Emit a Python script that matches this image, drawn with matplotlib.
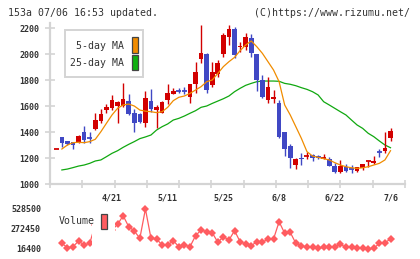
import matplotlib
matplotlib.use("Agg")
import matplotlib.pyplot as plt
from matplotlib.patches import Rectangle
import numpy as np

# ---------------- data ----------------
opens = [1270, 1360, 1330, 1322, 1323, 1400, 1358, 1423, 1485, 1569,
         1582, 1600, 1602, 1638, 1549, 1538, 1472, 1638, 1569, 1549,
         1646, 1695, 1720, 1718, 1667, 1767, 1964, 2000, 1762, 1846,
         2000, 2133, 2190, 2051, 2056, 2121, 1997, 1800, 1646, 1654,
         1626, 1400, 1292, 1146, 1203, 1216, 1223, 1205, 1201, 1192,
         1141, 1095, 1128, 1117, 1100, 1120, 1174, 1164, 1246, 1256, 1351]
highs = [1270, 1362, 1333, 1325, 1375, 1446, 1398, 1544, 1579, 1615,
         1685, 1640, 1779, 1692, 1574, 1550, 1715, 1731, 1610, 1640,
         1769, 1736, 1736, 1750, 1770, 1936, 2223, 2005, 1941, 1954,
         2160, 2223, 2210, 2095, 2159, 2154, 2000, 1838, 1826, 1723,
         1646, 1402, 1308, 1203, 1241, 1246, 1230, 1225, 1231, 1205,
         1164, 1185, 1154, 1146, 1131, 1154, 1176, 1215, 1269, 1397, 1428]
lows = [1270, 1287, 1303, 1272, 1318, 1313, 1318, 1418, 1467, 1544,
        1569, 1467, 1595, 1530, 1402, 1470, 1441, 1554, 1433, 1545,
        1613, 1690, 1700, 1690, 1620, 1702, 1928, 1702, 1749, 1826,
        1979, 2069, 1967, 2018, 2031, 1974, 1718, 1660, 1620, 1620,
        1355, 1215, 1125, 1115, 1146, 1195, 1180, 1190, 1190, 1135,
        1085, 1082, 1092, 1087, 1092, 1105, 1128, 1151, 1210, 1241, 1333]
closes = [1270, 1318, 1305, 1298, 1369, 1335, 1355, 1492, 1538, 1590,
          1646, 1628, 1651, 1541, 1472, 1479, 1659, 1579, 1592, 1631,
          1702, 1718, 1716, 1715, 1767, 1864, 2010, 1723, 1862, 1933,
          2149, 2190, 1992, 2062, 2128, 2005, 1800, 1667, 1749, 1672,
          1359, 1272, 1203, 1190, 1190, 1220, 1197, 1203, 1203, 1141,
          1090, 1141, 1100, 1113, 1131, 1154, 1176, 1179, 1242, 1279, 1408]

ma5 = [np.nan, 1269, 1300, 1318, 1321, 1318, 1326, 1344, 1402, 1467,
       1531, 1582, 1608, 1615, 1600, 1569, 1560, 1556, 1549, 1556,
       1590, 1641, 1667, 1677, 1697, 1723, 1749, 1787, 1800, 1851,
       1903, 1941, 1974, 2026, 2069, 2100, 2056, 2005, 1941, 1877,
       1787, 1608, 1531, 1441, 1351, 1249, 1215, 1205, 1195, 1185,
       1164, 1146, 1133, 1125, 1120, 1125, 1133, 1146, 1159, 1185, 1256]
ma25 = [np.nan, 1108, 1115, 1126, 1138, 1146, 1159, 1177, 1185, 1210,
        1236, 1256, 1282, 1305, 1326, 1349, 1362, 1377, 1415, 1441,
        1462, 1492, 1505, 1523, 1544, 1564, 1590, 1600, 1620, 1638,
        1656, 1677, 1710, 1736, 1759, 1774, 1787, 1792, 1792, 1792,
        1790, 1774, 1767, 1756, 1741, 1728, 1710, 1685, 1633, 1608,
        1582, 1556, 1531, 1492, 1454, 1428, 1390, 1364, 1331, 1300, 1279]

volume = [np.nan, 89400, 33000, 45800, 118800, 67600, 89400, 330000, 250000, 200000,
          260000, 332000, 443000, 302000, 247000, 153400, 528500, 153400, 144400, 67600,
          67600, 122700, 45800, 67600, 45800, 186700, 259600, 238000, 225000, 102100,
          173900, 131600, 250700, 109800, 80400, 58700, 109800, 102100, 144400, 144400,
          365900, 217400, 230200, 89400, 58700, 38200, 38200, 25400, 38200, 45800,
          45800, 76600, 38200, 45800, 25400, 25400, 16400, 25400, 89400, 97000, 144400]

date_labels = ["4/21", "5/11", "5/25", "6/8", "6/22", "7/6"]
date_idx = [10, 20, 30, 40, 50, 60]
price_ticks = [1000, 1200, 1400, 1600, 1800, 2000, 2200]
vol_ticks = [16400, 272450, 528500]

# ---------------- style ----------------
RED = "#d20000"
BLUE = "#4048c4"
ORANGE = "#f08c00"
GREEN = "#10a810"
VOLC = "#ff5c60"
GRID = "#d4d4d4"
TXT = "#333333"
MONO = "DejaVu Sans Mono"

W, H = 420, 259
fig = plt.figure(figsize=(W / 100, H / 100), dpi=100)

def fx(x):
    return x / W

def fy(y):
    return 1 - y / H

# main axes: pixel x 50..405, price 1000 at y=184, 0.13 px per yen
ymin, ymax = 1000, 2240
top_px = 184 - (ymax - ymin) * 0.13
ax = fig.add_axes([fx(50), fy(184), (405 - 50) / W, (184 - top_px) / H])
x0 = (50 - 56.3) / 5.57
x1 = (405 - 56.3) / 5.57
ax.set_xlim(x0, x1)
ax.set_ylim(ymin, ymax)

n = len(closes)
xs = np.arange(n)
for i in range(n):
    o, h, l, c = opens[i], highs[i], lows[i], closes[i]
    col = RED if c >= o else BLUE
    if h > l:
        ax.vlines(i, l, h, color=col, lw=1.0, zorder=3)
    if abs(c - o) < 6:
        ax.hlines((o + c) / 2, i - 0.45, i + 0.45, color=col, lw=1.3, zorder=3)
    else:
        ax.bar(i, abs(c - o), bottom=min(o, c), width=0.84, color=col,
               lw=0, zorder=3)

ax.plot(xs, ma5, color=ORANGE, lw=0.9, zorder=4)
ax.plot(xs, ma25, color=GREEN, lw=0.9, zorder=2)

for s in ["top", "right"]:
    ax.spines[s].set_visible(False)
for s in ["left", "bottom"]:
    ax.spines[s].set_color(GRID)
    ax.spines[s].set_linewidth(1.6)

ax.set_yticks(price_ticks)
ax.set_yticklabels([str(t) for t in price_ticks], family=MONO, fontsize=6,
                   color=TXT, fontweight="bold")
ax.tick_params(axis="y", direction="inout", length=7, width=1.2, color=GRID, pad=4)
xt = np.linspace(x0, x1, 12)
ax.set_xticks(xt)
ax.set_xticklabels([])
ax.tick_params(axis="x", direction="inout", length=6, width=1.2, color=GRID)

for lab, idx in zip(date_labels, date_idx):
    ax.annotate(lab, xy=(idx, 0), xycoords=("data", "axes fraction"),
                xytext=(0, -10), textcoords="offset points", ha="center",
                va="center", family=MONO, fontsize=6, color=TXT, fontweight="bold")

# legend (main)
fig.patches.append(Rectangle((fx(65), fy(77)), (143 - 65) / W, (77 - 30) / H,
                             transform=fig.transFigure, facecolor="white",
                             edgecolor=GRID, lw=1.4, zorder=5))
fig.text(fx(124.5), fy(46), "5-day MA", ha="right", va="center", family=MONO,
         fontsize=7.1, color=TXT, zorder=6)
fig.text(fx(124.5), fy(62.5), "25-day MA", ha="right", va="center", family=MONO,
         fontsize=7.1, color=TXT, zorder=6)
fig.patches.append(Rectangle((fx(131.5), fy(52.5)), 6 / W, 15.5 / H,
                             transform=fig.transFigure, facecolor=ORANGE,
                             edgecolor="#444444", lw=0.9, zorder=6))
fig.patches.append(Rectangle((fx(131.5), fy(69.5)), 6 / W, 15 / H,
                             transform=fig.transFigure, facecolor="#10b010",
                             edgecolor="#444444", lw=0.9, zorder=6))

# volume axes: 16400 at y=249, 528500 at y=209
vs = (528500 - 16400) / 40.0
vtop, vbot = 203, 255
vax = fig.add_axes([fx(50), fy(vbot), (405 - 50) / W, (vbot - vtop) / H])
vax.set_xlim(x0, x1)
vax.set_ylim(16400 - (vbot - 249) * vs, 528500 + (209 - vtop) * vs)
vax.plot(xs, volume, color=VOLC, lw=0.9, marker="D", markersize=4.2,
         markeredgewidth=0, zorder=3)
for s in vax.spines.values():
    s.set_visible(False)
vax.set_xticks([])
vax.set_yticks(vol_ticks)
vax.set_yticklabels([str(t) for t in vol_ticks], family=MONO, fontsize=6,
                    color=TXT, fontweight="bold")
vax.tick_params(axis="y", length=0, pad=6.5)
# legend box area covering volume (white), as in reference
vax.add_patch(Rectangle((0, 0), 1, 1, transform=fig.transFigure, visible=False))
fig.patches.append(Rectangle((fx(91.5), fy(255)), (115 - 91.5) / W, (255 - 205) / H,
                             transform=fig.transFigure, facecolor="white",
                             edgecolor="none", zorder=5))
fig.text(fx(59), fy(221.5), "Volume", ha="left", va="center", family=MONO,
         fontsize=7.1, color=TXT, zorder=6)
fig.patches.append(Rectangle((fx(101.3), fy(228.5)), 6 / W, 15 / H,
                             transform=fig.transFigure, facecolor=VOLC,
                             edgecolor="#444444", lw=0.9, zorder=6))

# header
fig.text(fx(8), fy(12.5), "153a 07/06 16:53 updated.", ha="left", va="center",
         family=MONO, fontsize=7.1, color=TXT)
fig.text(fx(410), fy(12.5), "(C)https://www.rizumu.net/", ha="right", va="center",
         family=MONO, fontsize=7.1, color=TXT)

fig.savefig("out.png", dpi=100)
